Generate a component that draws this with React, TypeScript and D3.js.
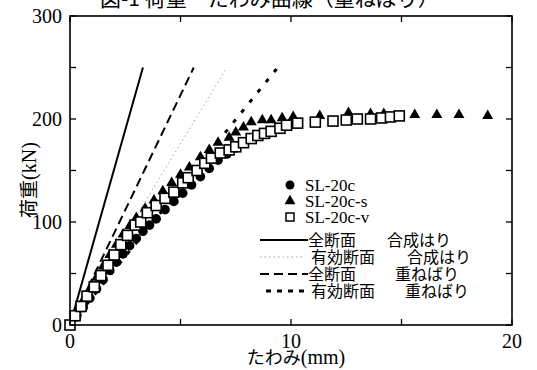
import React from "react";
import * as d3 from "d3";

// SL-20c (filled circles)
const circX = [0, 0.3, 0.6, 0.9, 1.2, 1.5, 1.8, 2.1, 2.4, 2.7, 3.0, 3.3, 3.6, 3.9, 4.3, 4.7, 5.1, 5.5, 5.9, 6.3, 6.7, 7.1, 7.5];
const circY = [0, 8, 17, 26, 35, 44, 53, 61, 69, 77, 84, 91, 97, 103, 112, 120, 128, 136, 144, 152, 160, 166, 172];

// SL-20c-s (filled triangles)
const triX = [0, 0.3, 0.6, 0.9, 1.2, 1.5, 1.8, 2.1, 2.4, 2.7, 3.0, 3.4, 3.8, 4.2, 4.6, 5.0, 5.4, 5.9, 6.3, 6.7, 7.2, 7.5, 7.85, 8.2, 8.7, 9.1, 9.6, 10.1, 11.3, 12.6, 13.6, 14.2, 15.6, 16.6, 17.6, 18.9];
const triY = [0, 12, 24, 35, 46, 57, 68, 78, 88, 96, 104, 113, 121, 130, 138, 146, 153, 163, 170, 177, 182, 187, 192, 197, 199, 199, 201, 202, 203, 206, 205, 205, 204, 204, 204, 203];

// SL-20c-v (open squares)
const sqX = [0, 0.23, 0.5, 0.77, 1.1, 1.4, 1.72, 2.0, 2.3, 2.6, 2.95, 3.2, 3.5, 3.9, 4.3, 4.7, 5.1, 5.35, 5.75, 6.1, 6.4, 6.8, 7.2, 7.5, 7.85, 8.2, 8.5, 8.8, 9.1, 9.5, 9.8, 10.3, 11.1, 11.9, 12.5, 13.0, 13.6, 14.1, 14.5, 14.9];
const sqY = [0, 9, 18, 28, 37, 48, 58, 68, 78, 87, 97, 100, 109, 116, 123, 129, 138, 143, 150, 157, 162, 167, 170, 173, 177, 181, 184, 186, 188, 191, 194, 196, 197, 198, 199, 200, 200, 201, 202, 203];

// theory lines: end deflection at 250 kN
const lineNames = ["全断面", "有効断面", "全断面", "有効断面"];
const lineKinds = ["合成はり", "合成はり", "重ねばり", "重ねばり"];
const lineEndX = [3.3, 7.1, 5.6, 9.4];
const lineEndY = [250, 250, 250, 250];
const lineDash = ["", "1.5,3", "9,5", "4,9"];
const lineWidth = [2, 0.8, 2, 3];
const lineColor = ["#000", "#888", "#000", "#000"];

const xTicks = [0, 5, 10, 15, 20];
const xLabels = [0, 10, 20];
const yTicks = [0, 50, 100, 150, 200, 250, 300];
const yLabels = [0, 100, 200, 300];

const seriesNames = ["SL-20c", "SL-20c-s", "SL-20c-v"];

export default function App() {
  const left = 70, right = 512, top = 16, bottom = 325;
  const x = d3.scaleLinear().domain([0, 20]).range([left, right]);
  const y = d3.scaleLinear().domain([0, 300]).range([bottom, top]);
  const tri = d3.symbol().type(d3.symbolTriangle).size(52);
  const serif = "'Liberation Serif', 'DejaVu Serif', serif";
  const jp = "'Noto Sans CJK JP', sans-serif";

  const legY = [185, 201, 217];
  const legLineY = [240, 257, 274, 291];
  const kindX = [387, 407, 395, 405];

  return (
    <svg width={537} height={370} style={{ position: "absolute", left: 0, top: 0, background: "#fff" }}>
      <rect width={537} height={370} fill="#fff" />
      <text x={100} y={6} fontFamily={jp} fontSize={21} fill="#000">
        図-1 荷重－たわみ曲線（重ねばり）
      </text>

      {/* theory lines */}
      {lineEndX.map((ex, i) => (
        <line key={"l" + i} x1={x(0)} y1={y(0)} x2={x(ex)} y2={y(lineEndY[i])}
          stroke={lineColor[i]} strokeWidth={lineWidth[i]} strokeDasharray={lineDash[i]} />
      ))}

      {/* measured data */}
      {circX.map((v, i) => (
        <circle key={"c" + i} cx={x(v)} cy={y(circY[i])} r={4.8} fill="#000" />
      ))}
      {triX.map((v, i) => (
        <path key={"t" + i} d={tri() as string} transform={`translate(${x(v)},${y(triY[i])})`} fill="#000" />
      ))}
      {sqX.map((v, i) => (
        <rect key={"s" + i} x={x(v) - 5} y={y(sqY[i]) - 5} width={10} height={10}
          fill="#fff" stroke="#000" strokeWidth={1.6} />
      ))}

      {/* frame */}
      <rect x={left} y={top} width={right - left} height={bottom - top} fill="none" stroke="#000" strokeWidth={1.6} />
      {xTicks.map((t) => (
        <g key={"xt" + t}>
          <line x1={x(t)} x2={x(t)} y1={bottom} y2={bottom - 6} stroke="#000" strokeWidth={1.3} />
          <line x1={x(t)} x2={x(t)} y1={top} y2={top + 6} stroke="#000" strokeWidth={1.3} />
        </g>
      ))}
      {yTicks.map((t) => (
        <g key={"yt" + t}>
          <line x1={left} x2={left + 6} y1={y(t)} y2={y(t)} stroke="#000" strokeWidth={1.3} />
          <line x1={right} x2={right - 6} y1={y(t)} y2={y(t)} stroke="#000" strokeWidth={1.3} />
        </g>
      ))}
      {xLabels.map((t) => (
        <text key={"xl" + t} x={x(t)} y={348} textAnchor="middle" fontFamily={serif} fontSize={20}>{t}</text>
      ))}
      {yLabels.map((t) => (
        <text key={"yl" + t} x={62} y={y(t) + 7} textAnchor="end" fontFamily={serif} fontSize={20}>{t}</text>
      ))}
      <text x={296} y={364} textAnchor="middle" fontFamily={jp} fontSize={18}>
        たわみ<tspan fontFamily={serif} fontSize={20}>(mm)</tspan>
      </text>
      <text transform={`translate(36,180) rotate(-90)`} textAnchor="middle" fontFamily={jp} fontSize={19}>
        荷重<tspan fontFamily={serif} fontSize={20}>(kN)</tspan>
      </text>

      {/* legend */}
      <circle cx={290} cy={legY[0]} r={4.5} fill="#000" />
      <path d={tri() as string} transform={`translate(290,${legY[1]})`} fill="#000" />
      <rect x={286} y={legY[2] - 4} width={8} height={8} fill="#fff" stroke="#000" strokeWidth={1.5} />
      {seriesNames.map((n, i) => (
        <text key={"sn" + i} x={305} y={legY[i] + 6} fontFamily={serif} fontSize={17}>{n}</text>
      ))}
      {lineNames.map((n, i) => (
        <g key={"ln" + i}>
          <line x1={i === 3 ? 266 : 260} x2={i === 1 ? 305 : 308} y1={legLineY[i]} y2={legLineY[i]}
            stroke={lineColor[i]} strokeWidth={lineWidth[i]} strokeDasharray={lineDash[i] === "4,9" ? "5,6" : lineDash[i]} />
          <text x={i % 2 === 0 ? 308 : 311} y={legLineY[i] + 6} fontFamily={jp} fontSize={16}>{n}</text>
          <text x={kindX[i]} y={legLineY[i] + 6} fontFamily={jp} fontSize={16}>{lineKinds[i]}</text>
        </g>
      ))}
    </svg>
  );
}
